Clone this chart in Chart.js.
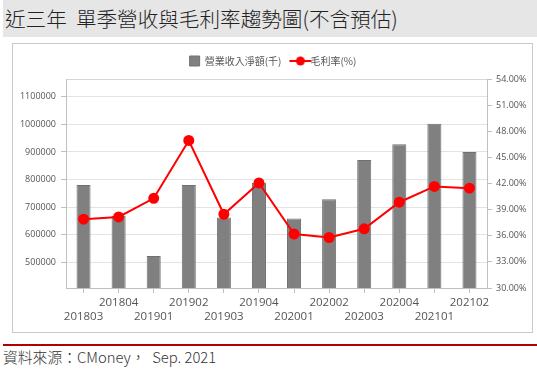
<!DOCTYPE html>
<html>
<head>
<meta charset="utf-8">
<script src="https://cdn.jsdelivr.net/npm/chart.js@4.4.0/dist/chart.umd.min.js"></script>
<style>
  body { margin: 0; width: 537px; height: 385px; background: #fff; position: relative; overflow: hidden;
         font-family: "Noto Sans CJK TC", "Noto Sans", sans-serif; }
  #title { position: absolute; left: 3px; top: 0; width: 534px; height: 37px; background: #e6e6e6;
           font-size: 20.6px; line-height: 36px; color: #222; padding-left: 2px; white-space: pre; font-weight: 300; }
  #box { position: absolute; left: 12px; top: 43px; width: 519px; height: 288px; border: 1px solid #c8c8c8; }
  #wrap { position: absolute; left: 1px; top: -2px; width: 518px; height: 289px; }
  #rule { position: absolute; left: 3px; top: 344px; width: 534px; height: 2px; background: #b0000a; }
  #src { position: absolute; left: 3px; top: 346px; font-size: 14.8px; line-height: 22px; color: #333; white-space: pre; font-weight: 300; }
</style>
</head>
<body>
<div id="title">近三年  單季營收與毛利率趨勢圖(不含預估)</div>
<div id="box"><div id="wrap"><canvas id="revChart"></canvas></div></div>
<div id="rule"></div>
<div id="src">資料來源：CMoney，  Sep. 2021</div>
<script>
var quarters = ["201803", "201804", "201901", "201902", "201903", "201904",
                "202001", "202002", "202003", "202004", "202101", "202102"];
var revenue = [781000, 669000, 524000, 781000, 663000, 789000,
               659000, 729000, 871000, 928000, 1002000, 900000];
var grossMargin = [37.90, 38.16, 40.30, 46.94, 38.47, 42.07,
                   36.20, 35.80, 36.80, 39.85, 41.66, 41.46];
var revenueTicks = [500000, 600000, 700000, 800000, 900000, 1000000, 1100000];
var marginTicks = [30, 33, 36, 39, 42, 45, 48, 51, 54];

// little line-with-dot marker for the legend
function lineMarker() {
	var c = document.createElement("canvas");
	c.width = 24; c.height = 12;
	var g = c.getContext("2d");
	g.strokeStyle = "#ff0000"; g.lineWidth = 2;
	g.beginPath(); g.moveTo(1, 6); g.lineTo(23, 6); g.stroke();
	g.fillStyle = "#ff0000";
	g.beginPath(); g.arc(12, 6, 4.5, 0, Math.PI * 2); g.fill();
	return c;
}
var marker = lineMarker();

// extra room under the legend
var legendGap = {
	id: "legendGap",
	beforeUpdate: function (chart) {
		var lg = chart.legend;
		if (lg && !lg._gap) {
			var fit = lg.fit;
			lg.fit = function () { fit.apply(this, arguments); this.height += 3; };
			lg._gap = true;
		}
	}
};

var axisFont = { family: "'Open Sans', 'Noto Sans', sans-serif", size: 9 };

new Chart("revChart", {
	data: {
		labels: quarters,
		datasets: [{
			type: "line",
			label: "毛利率(%)",
			data: grossMargin,
			yAxisID: "yR",
			borderColor: "#ff0000",
			backgroundColor: "#ff0000",
			borderWidth: 2,
			pointRadius: 4.5,
			pointHoverRadius: 4.5,
			order: 0
		}, {
			type: "bar",
			label: "營業收入淨額(千)",
			data: revenue,
			yAxisID: "yL",
			backgroundColor: "#808080",
			borderColor: "#707070",
			borderWidth: 1,
			barPercentage: 0.8,
			categoryPercentage: 0.5,
			order: 1
		}]
	},
	plugins: [legendGap],
	options: {
		responsive: true,
		maintainAspectRatio: false,
		animation: false,
		layout: { padding: 0 },
		plugins: {
			tooltip: { enabled: false },
			legend: {
				display: true,
				reverse: true,
				labels: {
					usePointStyle: true,
					font: { family: "'Noto Sans CJK TC', sans-serif", size: 10 },
					color: "#555",
					padding: 14,
					boxHeight: 12,
					generateLabels: function (chart) {
						var items = Chart.defaults.plugins.legend.labels.generateLabels(chart);
						items.forEach(function (it) {
							if (it.datasetIndex === 0) { it.pointStyle = marker; }
							else { it.pointStyle = "rect"; it.fillStyle = "#808080"; it.strokeStyle = "#707070"; }
						});
						return items;
					}
				}
			}
		},
		scales: {
			x: {
				offset: true,
				grid: { offset: false, drawOnChartArea: false, drawTicks: true, tickLength: 5, color: "#c0c0c0" },
				border: { color: "#c0c0c0" },
				ticks: {
					autoSkip: false, maxRotation: 0, color: "#555", padding: 3,
					font: { family: "'Open Sans', 'Noto Sans', sans-serif", size: 11.5 },
					callback: function (v, i) { return i % 2 ? quarters[i] : ["", quarters[i]]; }
				},
				afterFit: function (s) { s.height = 43; }
			},
			yL: {
				position: "left",
				min: 408000,
				max: 1164000,
				grid: { color: "#e3e3e3", tickColor: "#c0c0c0", tickLength: 5 },
				border: { color: "#c0c0c0" },
				ticks: { color: "#555", font: axisFont, padding: 5, callback: function (v) { return String(v); } },
				afterBuildTicks: function (s) { s.ticks = revenueTicks.map(function (v) { return { value: v }; }); },
				afterFit: function (s) { s.width = 52; }
			},
			yR: {
				position: "right",
				min: 30,
				max: 54,
				grid: {
					tickColor: "#c0c0c0", tickLength: 5,
					color: function (c) { return c.tick && c.tick.value === 54 ? "#d6d6d6" : "rgba(0,0,0,0)"; }
				},
				border: { color: "#c0c0c0" },
				ticks: {
					color: "#555", font: axisFont, padding: 4,
					callback: function (v) { return v.toFixed(2) + "%"; }
				},
				afterBuildTicks: function (s) { s.ticks = marginTicks.map(function (v) { return { value: v }; }); },
				afterFit: function (s) { s.width = 45; }
			}
		}
	}
});
</script>
</body>
</html>
